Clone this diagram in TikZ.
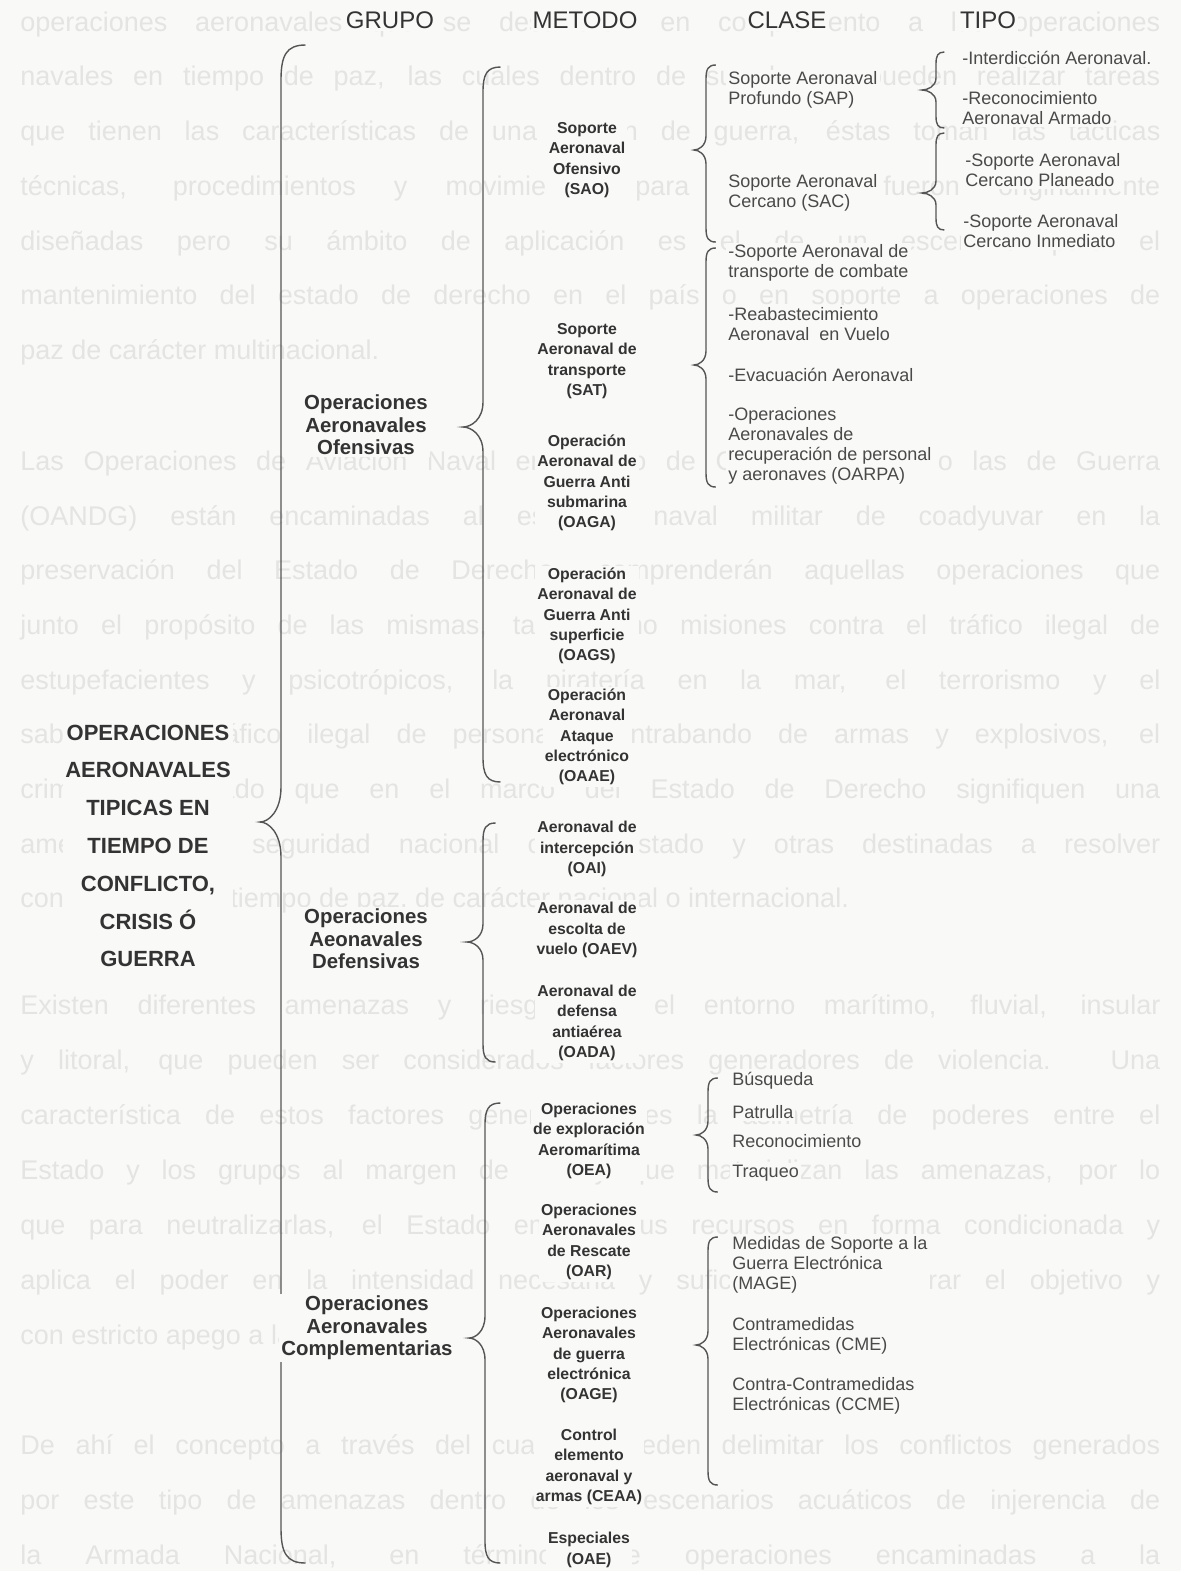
\documentclass[tikz,border=0pt]{standalone}
\usepackage{fontspec}
\setmainfont{Liberation Sans}
\definecolor{paper}{HTML}{F9F9F7}
\definecolor{bgtext}{HTML}{E4E4E2}
\definecolor{ink}{HTML}{333333}
\definecolor{ink2}{HTML}{4A4A4A}
\definecolor{ink3}{HTML}{555555}
\newcommand{\jl}[1]{\makebox[570pt][s]{#1}}
% brace: x, top, tip, bottom, depth, curl
\newcommand{\brc}[6]{%
  \draw[bracel] ({#1+0.7*#6},#2) .. controls ({#1+0.15*#6},#2) and (#1,{#2+0.3*#6}) .. (#1,{#2+#6})
    -- (#1,{#3-#6}) .. controls (#1,{#3-0.3*#6}) and ({#1-0.6*#5},#3) .. ({#1-#5},#3)
    .. controls ({#1-0.6*#5},#3) and (#1,{#3+0.3*#6}) .. (#1,{#3+#6})
    -- (#1,{#4-#6}) .. controls (#1,{#4-0.3*#6}) and ({#1+0.15*#6},#4) .. ({#1+0.7*#6},#4);}
\tikzset{
  bgt/.style={anchor=base west, inner sep=0pt, text=bgtext, font=\fontsize{13.5}{15}\selectfont},
  hdr/.style={font=\fontsize{12}{14}\selectfont, text=ink, fill=paper, inner sep=1pt},
  met/.style={font=\bfseries\fontsize{7.9}{10.15}\selectfont, align=center, text=ink, fill=paper, inner sep=1pt},
  grp/.style={font=\bfseries\fontsize{10.2}{11.25}\selectfont, align=center, text=ink, fill=paper, inner sep=1pt},
  bigt/.style={font=\bfseries\fontsize{11}{18.9}\selectfont, align=center, text=ink, fill=paper, inner sep=1pt},
  cls/.style={font=\fontsize{9}{10}\selectfont, align=left, anchor=west, text=ink2, fill=paper, inner sep=1pt},
  bracel/.style={draw=ink3, line width=0.7pt}
}
\begin{document}
\begin{tikzpicture}[x=0.5pt, y=-0.5pt]
\fill[paper] (0,0) rectangle (1181,1571);
\useasboundingbox (0,0) rectangle (1181,1571);
% background paragraph text (faint)
\node[bgt] (b1) at (20,31) {\jl{operaciones aeronavales que se desarrollan en complemento a las operaciones}};
\node[bgt] (b2) at (20,85) {\jl{navales en tiempo de paz, las cuales dentro de su alcance pueden realizar tareas}};
\node[bgt] (b3) at (20,140) {\jl{que tienen las características de una acción de guerra, éstas toman las tácticas}};
\node[bgt] (b4) at (20,195) {\jl{técnicas, procedimientos y movimientos para las que fueron originalmente}};
\node[bgt] (b5) at (20,250) {\jl{diseñadas pero su ámbito de aplicación es el de un escenario para el}};
\node[bgt] (b6) at (20,304) {\jl{mantenimiento del estado de derecho en el país o en soporte a operaciones de}};
\node[bgt] (b7) at (20,359) {paz de carácter multinacional.};
\node[bgt] (b8) at (20,470) {\jl{Las Operaciones de Aviación Naval en tiempo de Conflicto, Crisis o las de Guerra}};
\node[bgt] (b9) at (20,525) {\jl{(OANDG) están encaminadas al esfuerzo naval militar de coadyuvar en la}};
\node[bgt] (b10) at (20,579) {\jl{preservación del Estado de Derecho, comprenderán aquellas operaciones que}};
\node[bgt] (b11) at (20,634) {\jl{junto el propósito de las mismas, tales como misiones contra el tráfico ilegal de}};
\node[bgt] (b12) at (20,689) {\jl{estupefacientes y psicotrópicos, la piratería en la mar, el terrorismo y el}};
\node[bgt] (b13) at (20,743) {\jl{sabotaje, el tráfico ilegal de personas, contrabando de armas y explosivos, el}};
\node[bgt] (b14) at (20,798) {\jl{crimen organizado que en el marco del Estado de Derecho signifiquen una}};
\node[bgt] (b15) at (20,853) {\jl{amenaza a la seguridad nacional o al Estado y otras destinadas a resolver}};
\node[bgt] (b16) at (20,907) {contingencias en tiempo de paz, de carácter nacional o internacional.};
\node[bgt] (b17) at (20,1014) {\jl{Existen diferentes amenazas y riesgos en el entorno marítimo, fluvial, insular}};
\node[bgt] (b18) at (20,1069) {\jl{y litoral, que pueden ser considerados factores generadores de violencia. Una}};
\node[bgt] (b19) at (20,1124) {\jl{característica de estos factores generadores es la asimetría de poderes entre el}};
\node[bgt] (b20) at (20,1179) {\jl{Estado y los grupos al margen de la ley que materializan las amenazas, por lo}};
\node[bgt] (b21) at (20,1234) {\jl{que para neutralizarlas, el Estado emplea sus recursos en forma condicionada y}};
\node[bgt] (b22) at (20,1289) {\jl{aplica el poder en la intensidad necesaria y suficiente para lograr el objetivo y}};
\node[bgt] (b23) at (20,1344) {con estricto apego a la ley.};
\node[bgt] (b24) at (20,1454) {\jl{De ahí el concepto a través del cual se pueden delimitar los conflictos generados}};
\node[bgt] (b25) at (20,1509) {\jl{por este tipo de amenazas dentro de los escenarios acuáticos de injerencia de}};
\node[bgt] (b26) at (20,1564) {\jl{la Armada Nacional, en términos de operaciones encaminadas a la}};
% braces
\brc{281}{45}{822}{1563}{21}{35}
\brc{483}{67}{427}{782}{20}{25}
\brc{483}{823}{942}{1062}{16}{18}
\brc{485}{1103}{1338}{1563}{16}{22}
\brc{706}{65}{150}{242}{12}{14}
\brc{706}{248}{365}{487}{12}{14}
\brc{708}{1078}{1135}{1192}{12}{14}
\brc{708}{1237}{1345}{1485}{12}{14}
\brc{936}{52}{90}{128}{14}{12}
\brc{936}{133}{193}{230}{14}{12}
% headers
\node[hdr] (hG) at (390,20) {GRUPO};
\node[hdr] (hM) at (585,20) {METODO};
\node[hdr] (hC) at (787,20) {CLASE};
\node[hdr] (hT) at (988,20) {TIPO};
% left title
\node[bigt] (g0) at (148,846) {OPERACIONES\\AERONAVALES\\TIPICAS EN\\TIEMPO DE\\CONFLICTO,\\CRISIS Ó\\GUERRA};
% groups
\node[grp] (g1) at (366,425) {Operaciones\\Aeronavales\\Ofensivas};
\node[grp] (g2) at (366,939) {Operaciones\\Aeonavales\\Defensivas};
\node[grp] (g3) at (367,1328) {Operaciones\\Aeronavales\\Complementarias};
% methods
\node[met] (m1) at (587,160) {Soporte\\Aeronaval\\Ofensivo\\(SAO)};
\node[met] (m2) at (587,361) {Soporte\\Aeronaval de\\transporte\\(SAT)};
\node[met] (m3) at (587,483) {Operación\\Aeronaval de\\Guerra Anti\\submarina\\(OAGA)};
\node[met] (m4) at (587,616) {Operación\\Aeronaval de\\Guerra Anti\\superficie\\(OAGS)};
\node[met] (m5) at (587,737) {Operación\\Aeronaval\\Ataque\\electrónico\\(OAAE)};
\node[met] (m6) at (587,849) {Aeronaval de\\intercepción\\(OAI)};
\node[met] (m7) at (587,930) {Aeronaval de\\escolta de\\vuelo (OAEV)};
\node[met] (m8) at (587,1023) {Aeronaval de\\defensa\\antiaérea\\(OADA)};
\node[met] (m9) at (589,1141) {Operaciones\\de exploración\\Aeromarítima\\(OEA)};
\node[met] (m10) at (589,1242) {Operaciones\\Aeronavales\\de Rescate\\(OAR)};
\node[met] (m11) at (589,1355) {Operaciones\\Aeronavales\\de guerra\\electrónica\\(OAGE)};
\node[met] (m12) at (589,1467) {Control\\elemento\\aeronaval y\\armas (CEAA)};
\node[met] (m13) at (589,1550) {Especiales\\(OAE)};
% classes
\node[cls] (c1) at (726,90) {Soporte Aeronaval\\Profundo (SAP)};
\node[cls] (c2) at (726,193) {Soporte Aeronaval\\Cercano (SAC)};
\node[cls] (c3) at (726,263) {-Soporte Aeronaval de\\transporte de combate};
\node[cls] (c4) at (726,324) {-Reabastecimiento\\Aeronaval\ \ en Vuelo};
\node[cls] (c5) at (726,375) {-Evacuación Aeronaval};
\node[cls] (c6) at (726,446) {-Operaciones\\Aeronavales de\\recuperación de personal\\y aeronaves (OARPA)};
\node[cls] (c7) at (730,1081) {Búsqueda};
\node[cls] (c8) at (730,1112) {Patrulla};
\node[cls] (c9) at (730,1141) {Reconocimiento};
\node[cls] (c10) at (730,1173) {Traqueo};
\node[cls] (c11) at (730,1265) {Medidas de Soporte a la\\Guerra Electrónica\\(MAGE)};
\node[cls] (c12) at (730,1336) {Contramedidas\\Electrónicas (CME)};
\node[cls] (c13) at (730,1396) {Contra-Contramedidas\\Electrónicas (CCME)};
% types
\node[cls] (t1) at (960,58) {-Interdicción Aeronaval.};
\node[cls] (t2) at (960,108) {-Reconocimiento\\Aeronaval Armado};
\node[cls] (t3) at (963,170) {-Soporte Aeronaval\\Cercano Planeado};
\node[cls] (t4) at (961,231) {-Soporte Aeronaval\\Cercano Inmediato};
\end{tikzpicture}
\end{document}
